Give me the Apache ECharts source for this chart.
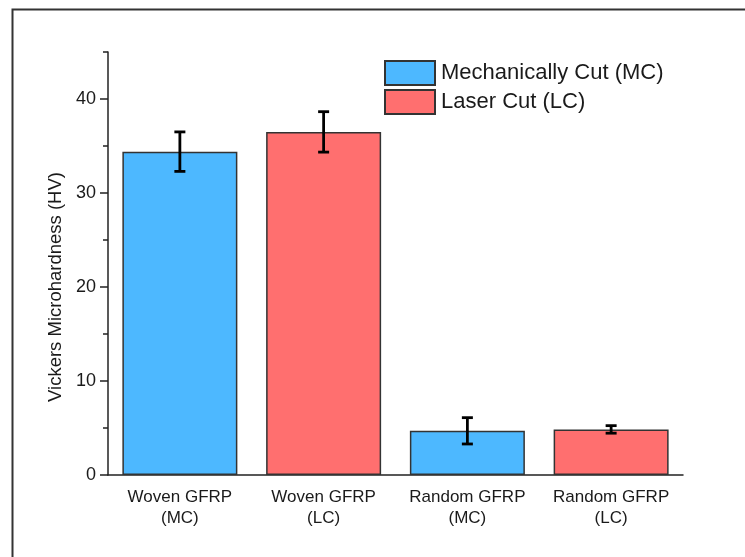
<!DOCTYPE html>
<html>
<head>
<meta charset="utf-8">
<script src="https://cdn.jsdelivr.net/npm/echarts@6/dist/echarts.min.js"></script>
<style>
  html, body { margin: 0; padding: 0; background: #fff; }
  #chart { width: 745px; height: 557px; }
</style>
</head>
<body>
<div id="chart"></div>
<script>
// Sample groups (two-line category labels)
const categories = ['Woven GFRP\n(MC)', 'Woven GFRP\n(LC)', 'Random GFRP\n(MC)', 'Random GFRP\n(LC)'];
// Mean Vickers microhardness (HV); '-' where the group belongs to the other cutting method
const mcValues = [34.4, '-', 4.7, '-'];
const lcValues = ['-', 36.5, '-', 4.85];
// Standard deviation for each group
const errors = [2.1, 2.15, 1.4, 0.4];
const means = [34.4, 36.5, 4.7, 4.85];
const seriesNames = ['Mechanically Cut (MC)', 'Laser Cut (LC)'];
const yTickLabels = [0, 10, 20, 30, 40];

const BLUE = '#4db8ff';
const RED = '#ff6f6f';
const FONT = '"Liberation Sans", Arial, sans-serif';

const errorData = means.map((m, i) => [i, m - errors[i], m + errors[i]]);

const chart = echarts.init(document.getElementById('chart'));

const gridLeft = 108, gridRight = 745 - 683, gridBottom = 557 - 475;
const gridTop = 52;
// second grid spans 0..40 only, for the long major ticks and labels
const unit = (475 - gridTop) / 45;
const grid2Top = 475 - 40 * unit;

chart.setOption({
  animation: false,
  backgroundColor: '#fff',
  graphic: [{
    type: 'polyline',
    shape: { points: [[12.5, 600], [12.5, 9.5], [800, 9.5]] },
    style: { stroke: '#333', lineWidth: 2, fill: null }
  }],
  legend: {
    left: 384, top: 60,
    padding: 0,
    orient: 'vertical',
    itemWidth: 50, itemHeight: 24, itemGap: 3,
    icon: 'rect',
    textStyle: { fontFamily: FONT, fontSize: 22, color: '#1a1a1a', padding: [0, 0, 0, 1] },
    data: seriesNames
  },
  grid: [
    { left: gridLeft, right: gridRight, top: gridTop, bottom: gridBottom },
    { left: gridLeft, right: gridRight, top: grid2Top, bottom: gridBottom }
  ],
  xAxis: [{
    gridIndex: 0,
    type: 'category',
    data: categories,
    axisLine: { lineStyle: { color: '#222', width: 1.5 } },
    axisTick: { alignWithLabel: true, length: 7, lineStyle: { color: '#222', width: 1.5 } },
    axisLabel: {
      interval: 0, hideOverlap: false,
      fontFamily: FONT, fontSize: 17, color: '#1a1a1a', margin: 12, lineHeight: 21
    }
  }, {
    gridIndex: 1,
    type: 'category',
    data: categories,
    axisLine: { show: false },
    axisTick: { length: 4, lineStyle: { color: '#222', width: 1.5 } },
    axisLabel: { show: false }
  }],
  yAxis: [{
    gridIndex: 0,
    type: 'value',
    min: 0, max: 45, interval: 5,
    axisLine: { show: true, lineStyle: { color: '#222', width: 1.5 } },
    axisTick: { show: true, length: 5, lineStyle: { color: '#222', width: 1.5 } },
    axisLabel: { show: false },
    splitLine: { show: false }
  }, {
    gridIndex: 1,
    type: 'value',
    min: 0, max: 40, interval: 10,
    axisLine: { show: false },
    axisTick: { show: true, length: 8, lineStyle: { color: '#222', width: 1.5 } },
    axisLabel: {
      fontFamily: FONT, fontSize: 18, color: '#1a1a1a', margin: 12,
      formatter: v => (yTickLabels.indexOf(v) >= 0 ? String(v) : '')
    },
    splitLine: { show: false },
    name: 'Vickers Microhardness (HV)',
    nameLocation: 'middle',
    nameGap: 41,
    nameTextStyle: { fontFamily: FONT, fontSize: 18.5, color: '#1a1a1a' }
  }],
  series: [{
    name: seriesNames[0],
    type: 'bar',
    xAxisIndex: 0, yAxisIndex: 0,
    stack: 'g',
    barCategoryGap: '20%',
    data: mcValues,
    itemStyle: { color: BLUE, borderColor: '#333', borderWidth: 1.5 }
  }, {
    name: seriesNames[1],
    type: 'bar',
    xAxisIndex: 0, yAxisIndex: 0,
    stack: 'g',
    barCategoryGap: '20%',
    data: lcValues,
    itemStyle: { color: RED, borderColor: '#333', borderWidth: 1.5 }
  }, {
    name: 'error',
    type: 'custom',
    xAxisIndex: 0, yAxisIndex: 0,
    z: 10,
    data: errorData,
    encode: { x: 0, y: [1, 2] },
    renderItem: function (params, api) {
      const x = api.value(0);
      const lo = api.coord([x, api.value(1)]);
      const hi = api.coord([x, api.value(2)]);
      const half = 5.5;
      const st = { stroke: '#000', lineWidth: 2.8 };
      return {
        type: 'group',
        children: [
          { type: 'line', shape: { x1: lo[0], y1: lo[1], x2: hi[0], y2: hi[1] }, style: st },
          { type: 'line', shape: { x1: lo[0] - half, y1: lo[1], x2: lo[0] + half, y2: lo[1] }, style: st },
          { type: 'line', shape: { x1: hi[0] - half, y1: hi[1], x2: hi[0] + half, y2: hi[1] }, style: st }
        ]
      };
    }
  }]
});
</script>
</body>
</html>
